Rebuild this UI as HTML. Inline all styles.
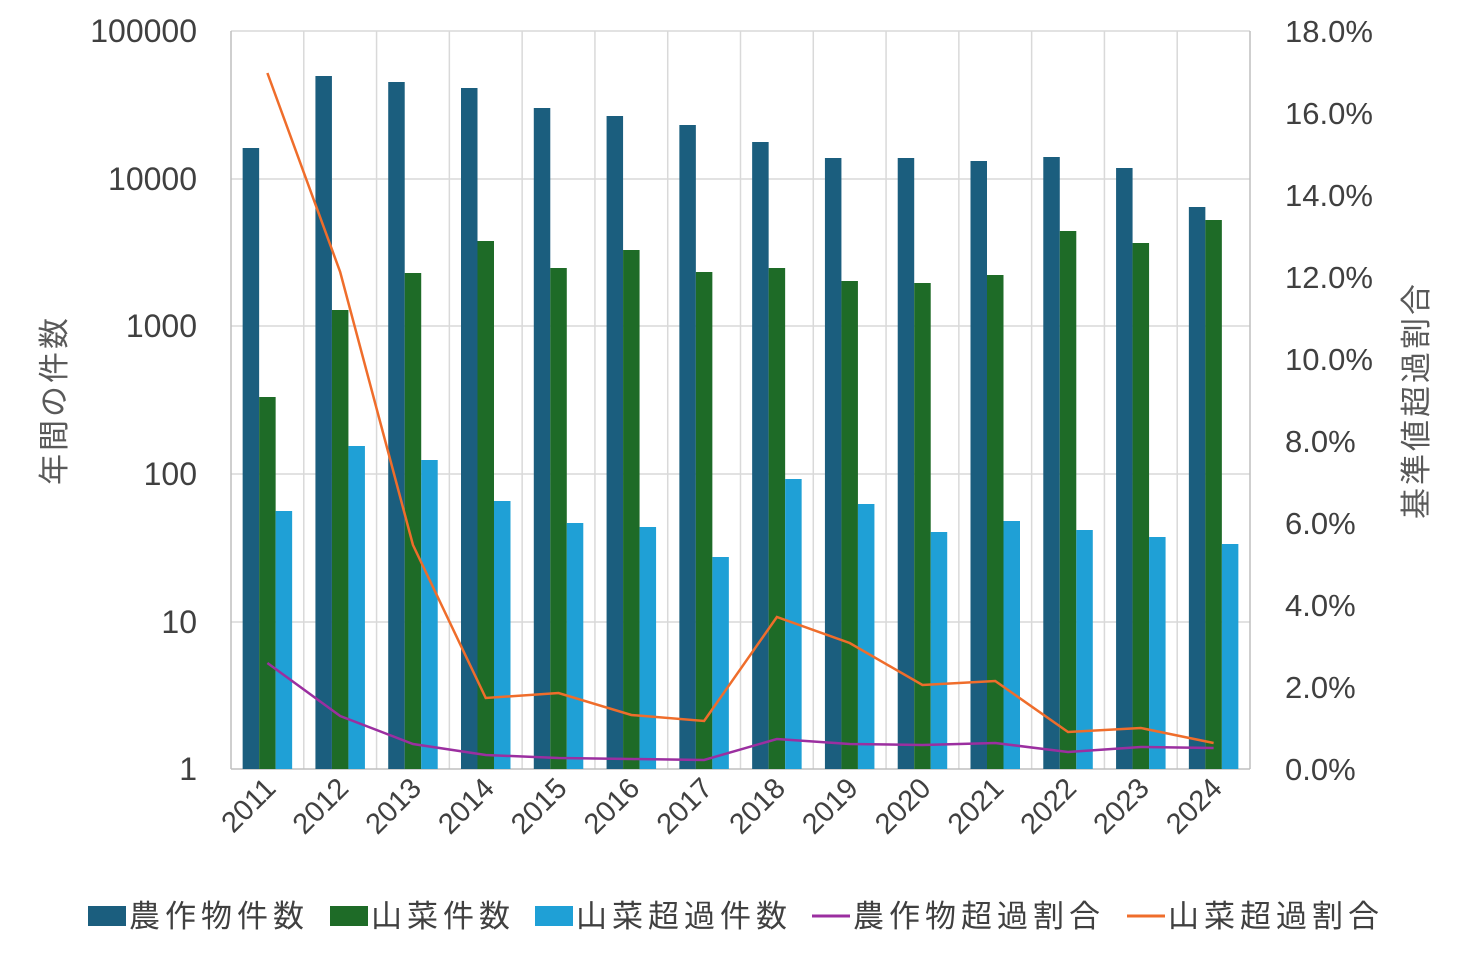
<!DOCTYPE html>
<html><head><meta charset="utf-8"><style>
body{margin:0;background:#fff}
svg{display:block;font-family:"Liberation Sans","Noto Sans CJK JP",sans-serif}
</style></head><body>
<svg width="1465" height="957" viewBox="0 0 1465 957">
<g stroke="#d9d9d9" stroke-width="1.5">
<line x1="231" y1="31" x2="1250" y2="31"/><line x1="231" y1="179" x2="1250" y2="179"/>
<line x1="231" y1="326" x2="1250" y2="326"/><line x1="231" y1="474" x2="1250" y2="474"/>
<line x1="231" y1="622" x2="1250" y2="622"/>
</g>
<g id="grid" stroke="#d9d9d9" stroke-width="1.5"></g>
<line x1="231" y1="31" x2="231" y2="769" stroke="#bfbfbf" stroke-width="1.5"/>
<line x1="1250" y1="31" x2="1250" y2="769" stroke="#bfbfbf" stroke-width="1.5"/>
<line x1="231" y1="769" x2="1250" y2="769" stroke="#bfbfbf" stroke-width="1.5"/>
<g id="bars"></g>
<g id="lines"></g>
<g font-size="32" fill="#404040" text-anchor="end">
<text x="197" y="42">100000</text><text x="197" y="190">10000</text><text x="197" y="337">1000</text>
<text x="197" y="485">100</text><text x="197" y="633">10</text><text x="197" y="780">1</text>
</g>
<g font-size="31" fill="#404040" text-anchor="start" id="rt"></g>
<g font-size="29" fill="#404040" id="xl"></g>
<text transform="translate(65,400) rotate(-90)" font-size="31" fill="#595959" text-anchor="middle" letter-spacing="3">年間の件数</text>
<text transform="translate(1427,400) rotate(-90)" font-size="31" fill="#595959" text-anchor="middle" letter-spacing="3">基準値超過割合</text>
<g font-size="31" fill="#404040" letter-spacing="5">
<rect x="88" y="906" width="38" height="20" fill="#1b5e7e"/><text x="129" y="927">農作物件数</text>
<rect x="330" y="906" width="38" height="20" fill="#1e6b27"/><text x="371" y="927">山菜件数</text>
<rect x="535" y="906" width="38" height="20" fill="#1fa0d6"/><text x="576" y="927">山菜超過件数</text>
<line x1="812" y1="916" x2="850" y2="916" stroke="#9b2fa0" stroke-width="3"/><text x="853" y="927">農作物超過割合</text>
<line x1="1127" y1="916" x2="1165" y2="916" stroke="#ef6d2b" stroke-width="3"/><text x="1168" y="927">山菜超過割合</text>
</g>
</svg>
<script>
const ns="http://www.w3.org/2000/svg";
function el(p,t,a,txt){const e=document.createElementNS(ns,t);for(const k in a)e.setAttribute(k,a[k]);if(txt)e.textContent=txt;document.getElementById(p).appendChild(e);return e;}
const cw=(1250-231)/14;
for(let i=1;i<14;i++){const x=231+cw*i;el("grid","line",{x1:x,y1:31,x2:x,y2:769});}
const d=[148,76,82,88,108,116,125,142,158,158,161,157,168,207];
const g=[397,310,273,241,268,250,272,268,281,283,275,231,243,220];
const l=[511,446,460,501,523,527,557,479,504,532,521,530,537,544];
const p=[663,716,744,755,758,759,760,739,744,745,743,752,747,748];
const o=[73,272,545,698,693,715,721,617,643,685,681,732,728,743];
const bw=16.5;
let pp=[],op=[];
for(let i=0;i<14;i++){const c=231+cw*(i+0.5);
el("bars","rect",{x:c-1.5*bw,y:d[i],width:bw,height:769-d[i],fill:"#1b5e7e"});
el("bars","rect",{x:c-0.5*bw,y:g[i],width:bw,height:769-g[i],fill:"#1e6b27"});
el("bars","rect",{x:c+0.5*bw,y:l[i],width:bw,height:769-l[i],fill:"#1fa0d6"});
pp.push(c+","+p[i]);op.push(c+","+o[i]);
el("xl","text",{transform:`translate(${c+10},${790}) rotate(-45)`,"text-anchor":"end"},String(2011+i));
}
el("lines","polyline",{points:pp.join(" "),fill:"none",stroke:"#9b2fa0","stroke-width":2.5});
el("lines","polyline",{points:op.join(" "),fill:"none",stroke:"#ef6d2b","stroke-width":2.5});
for(let k=0;k<=9;k++){const y=769-k*82;el("rt","text",{x:1285,y:y+11},(k*2).toFixed(1)+"%");}
</script>
</body></html>
